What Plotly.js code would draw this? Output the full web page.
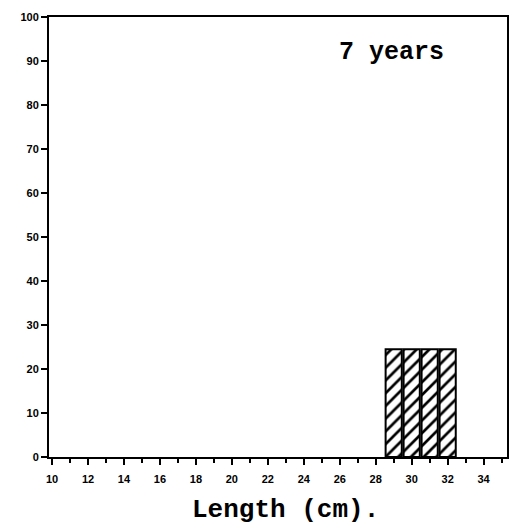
<!DOCTYPE html>
<html><head><meta charset="utf-8">
<script src="https://cdn.plot.ly/plotly-3.0.1.min.js"></script>
<style>body{margin:0;background:#fff}#c{width:512px;height:529px}</style>
</head><body><div id="c"></div>
<script>
const lengths = [29, 30, 31, 32];
const percents = [24.5, 24.5, 24.5, 24.5];
const xTicks = [10,12,14,16,18,20,22,24,26,28,30,32,34];
const yTicks = [0,10,20,30,40,50,60,70,80,90,100];
const panelLabel = "7 years";
const xTitle = "Length (cm).";

const mono = 'Liberation Mono, Courier New, monospace';
Plotly.newPlot('c', [{
  type: 'bar', x: lengths, y: percents, width: 0.9,
  marker: {color: 'white', line: {color: 'black', width: 2},
    pattern: {shape: '/', fgcolor: 'black', bgcolor: 'white', size: 9, solidity: 0.3}},
  hoverinfo: 'skip'
}], {
  width: 512, height: 529,
  margin: {l: 49, r: 5, t: 17, b: 72},
  paper_bgcolor: 'white', plot_bgcolor: 'white',
  showlegend: false,
  bargap: 0,
  xaxis: {range: [9.83, 35.3], tickvals: xTicks, ticktext: xTicks.map(String),
    ticks: 'outside', ticklen: 6, tickwidth: 2, tickcolor: 'black', ticklabelstandoff: 5,
    minor: {dtick: 1, tick0: 0, ticks: 'outside', ticklen: 4, tickwidth: 2, tickcolor: 'black'},
    showline: true, linecolor: 'black', linewidth: 2, mirror: true,
    showgrid: false, zeroline: false,
    tickfont: {family: 'Arial, Liberation Sans', size: 11, color: 'black', weight: 'bold'}},
  yaxis: {range: [0, 100], tickvals: yTicks, ticktext: yTicks.map(String),
    ticks: 'outside', ticklen: 6, tickwidth: 2, tickcolor: 'black',
    showline: true, linecolor: 'black', linewidth: 2, mirror: true,
    showgrid: false, zeroline: false,
    tickfont: {family: 'Arial, Liberation Sans', size: 11, color: 'black', weight: 'bold'}},
  annotations: [
    {text: panelLabel, xref: 'x', yref: 'y', x: 28.9, y: 92, showarrow: false,
     font: {family: mono, size: 25, color: 'black', weight: 'bold'}},
    {text: xTitle, xref: 'paper', yref: 'paper', x: 0.517, y: -0.12, yanchor: 'middle', showarrow: false,
     font: {family: mono, size: 26, color: 'black', weight: 'bold'}}
  ]
}, {displayModeBar: false, staticPlot: true});
</script></body></html>
